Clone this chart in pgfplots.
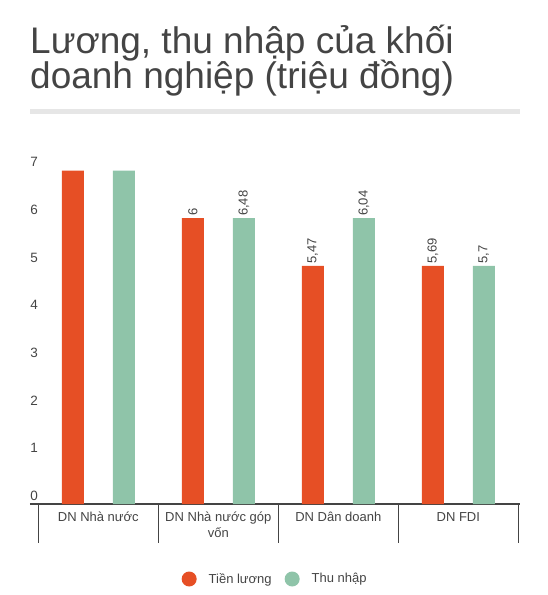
\documentclass[border=0pt]{standalone}
\usepackage{pgfplots}
\pgfplotsset{compat=1.18}
\usepackage{pgfplotstable}
\usepackage{fontspec}
\setmainfont{Liberation Sans}

\definecolor{luong}{HTML}{E64F25}
\definecolor{thunhap}{HTML}{8FC4A9}
\definecolor{chu}{HTML}{444444}
\definecolor{vach}{HTML}{E6E6E6}

% bar heights as drawn, label text as printed
\pgfplotstableread{
x y lbl
0 7 {}
1 6 6
2 5 5,47
3 5 5,69
}\tienluong
\pgfplotstableread{
x y lbl
0 7 {}
1 6 6,48
2 6 6,04
3 5 5,7
}\thunhaptab

\begin{document}
\begin{tikzpicture}
\path[use as bounding box] (0pt,0pt) rectangle (548pt,595pt);

\node[anchor=base west, inner sep=0pt, text=chu, font=\fontsize{37}{37}\selectfont]
  at (30pt,541.7pt) {Lương, thu nhập của khối};
\node[anchor=base west, inner sep=0pt, text=chu, font=\fontsize{37}{37}\selectfont]
  at (30pt,506.7pt) {doanh nghiệp (triệu đồng)};
\fill[vach] (30pt,481pt) rectangle (520pt,485.7pt);

\begin{axis}[
    at={(38.3pt,91pt)}, anchor=south west,
    scale only axis,
    width=480pt, height=333.5pt,
    xmin=-0.5, xmax=3.5, ymin=0, ymax=7,
    enlargelimits=false,
    clip=false,
    ybar=29pt, bar width=22pt,
    axis x line=bottom, axis y line=left,
    x axis line style={-, line width=1.7pt, draw=chu, shorten <=-8.3pt, shorten >=-1.7pt},
    y axis line style={draw=none},
    xtick={0,1,2,3},
    xticklabels={DN Nhà nước, DN Nhà nước góp\\vốn, DN Dân doanh, DN FDI},
    minor xtick={-0.5,0.5,1.5,2.5,3.5},
    ytick={0,1,...,7},
    major tick length=0pt,
    minor tick length=39pt,
    tick align=outside,
    major tick style={draw=none},
    minor tick style={line width=1.2pt, draw=chu},
    /pgf/number format/assume math mode=true,
    yticklabel style={anchor=west, inner sep=0pt, xshift=-8.1pt, yshift=8.3pt,
        text=chu, font=\fontsize{13.5}{16}\selectfont},
    xticklabel style={anchor=north, align=center, inner sep=0pt, yshift=-8pt,
        text=chu, font=\fontsize{13}{15.5}\selectfont},
    point meta=explicit symbolic,
    nodes near coords,
    every node near coord/.append style={rotate=90, anchor=west, inner sep=2pt,
        text=chu, font=\fontsize{13}{15}\selectfont},
    legend columns=2,
    legend style={at={(0.2983,-0.2249)}, anchor=west, draw=none, fill=none,
        inner sep=0pt,
        font=\fontsize{13}{15}\selectfont, text=chu,
        /tikz/every odd column/.append style={column sep=10pt},
        /tikz/every even column/.append style={column sep=11pt}},
    legend image code/.code={\fill[#1] (0pt,0pt) circle (7.5pt);},
]
\addplot[fill=luong, draw=none]
  table[x=x, y=y, meta=lbl] {\tienluong};
\addplot[fill=thunhap, draw=none]
  table[x=x, y=y, meta=lbl] {\thunhaptab};
\legend{Tiền lương, Thu nhập}
\end{axis}
\end{tikzpicture}
\end{document}
